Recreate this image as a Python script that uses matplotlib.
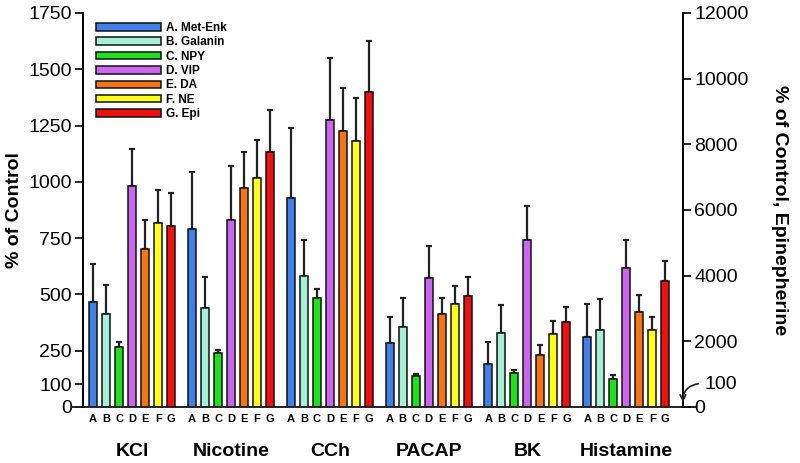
import numpy as np
import matplotlib
matplotlib.use("Agg")
import matplotlib.pyplot as plt
from matplotlib.transforms import blended_transform_factory

plt.rcParams['font.family'] = ['Liberation Sans', 'DejaVu Sans']

groups = ['KCl', 'Nicotine', 'CCh', 'PACAP', 'BK', 'Histamine']
letters = ['A', 'B', 'C', 'D', 'E', 'F', 'G']
names = ['A. Met-Enk', 'B. Galanin', 'C. NPY', 'D. VIP', 'E. DA', 'F. NE', 'G. Epi']
colors = ['#3f7fe8', '#a6f0d8', '#1ee01e', '#cc66ee', '#f57514', '#ffff1a', '#ee1111']

# % of control (left axis), rows = A..F, columns = groups
met_enk = [465, 792, 927, 286, 192, 311]
met_enk_err = [170, 252, 312, 114, 95, 147]
galanin = [412, 441, 581, 357, 329, 341]
galanin_err = [130, 137, 161, 129, 125, 139]
npy = [265, 238, 486, 138, 150, 123]
npy_err = [22, 15, 37, 9, 14, 20]
vip = [980, 829, 1276, 572, 742, 617]
vip_err = [168, 243, 273, 145, 150, 126]
da = [700, 974, 1225, 413, 231, 424]
da_err = [131, 160, 193, 73, 44, 72]
ne = [819, 1016, 1180, 459, 324, 341]
ne_err = [145, 170, 191, 79, 58, 57]
# epinephrine on right axis
epi = [5514, 7769, 9595, 3381, 2599, 3838]
epi_err = [995, 1278, 1564, 570, 457, 609]

left_vals = [met_enk, galanin, npy, vip, da, ne]
left_errs = [met_enk_err, galanin_err, npy_err, vip_err, da_err, ne_err]

fig = plt.figure(figsize=(8, 4.63), dpi=100)
ax = fig.add_axes([0.104, 0.121, 0.75, 0.851])
ax2 = ax.twinx()

pitch = 7.6
w = 0.62
base = np.arange(len(groups)) * pitch
ekw = dict(ecolor='#222222', elinewidth=1.6, capsize=2, capthick=1.6)

for j in range(6):
    x = base + j
    ax.bar(x, left_vals[j], w, color=colors[j], edgecolor='#111111', linewidth=1.1,
           label=names[j], zorder=2)
    ax.errorbar(x, left_vals[j], yerr=[np.zeros(6), left_errs[j]], fmt='none', zorder=1, **ekw)

x = base + 6
ax2.bar(x, epi, w, color=colors[6], edgecolor='#111111', linewidth=1.1, label=names[6], zorder=2)
ax2.errorbar(x, epi, yerr=[np.zeros(6), epi_err], fmt='none', zorder=1, **ekw)

ax.set_xlim(-0.77, 5 * pitch + 6 + 1.38)
ax.set_ylim(0, 1750)
ax2.set_ylim(0, 12000)

ax.set_yticks([0, 100, 250, 500, 750, 1000, 1250, 1500, 1750])
ax2.set_yticks([0, 2000, 4000, 6000, 8000, 10000, 12000])
ax.tick_params(axis='y', labelsize=14, length=6, width=1.2, pad=2)
ax2.tick_params(axis='y', labelsize=14, length=6, width=1.2, pad=2)

xt = np.concatenate([base + j for j in range(7)])
xl = [l for l in letters for _ in range(6)]
ax.set_xticks(xt)
ax.set_xticklabels(xl, fontsize=8, fontweight='bold')
ax.tick_params(axis='x', length=0, pad=5)

for a in (ax, ax2):
    a.spines['top'].set_visible(False)
    a.spines['bottom'].set_visible(False)
    for s in ('left', 'right'):
        a.spines[s].set_linewidth(1.4)
ax.plot([-0.018, 1.02], [0, 0], transform=ax.transAxes, color='#222222', lw=1.4, clip_on=False)

ax.set_ylabel('% of Control', fontsize=14, fontweight='bold', labelpad=4)
ax2.set_ylabel('% of Control, Epinepherine', fontsize=14, fontweight='bold',
               rotation=270, labelpad=28)

trans = blended_transform_factory(ax.transData, ax.transAxes)
for i, g in enumerate(groups):
    ax.text(base[i] + 3, -0.113, g, transform=trans, ha='center', va='center',
            fontsize=14, fontweight='bold')

# right-axis 100 marker with curly arrow
ax2.annotate('', xy=(1.0, 0.005), xytext=(1.03, 0.06), xycoords='axes fraction',
             arrowprops=dict(arrowstyle='->', color='#222222', lw=1.2,
                             connectionstyle='arc3,rad=0.5'))
ax2.text(1.035, 0.058, '100', transform=ax2.transAxes, fontsize=14, va='center', ha='left')

h1, l1 = ax.get_legend_handles_labels()
h2, l2 = ax2.get_legend_handles_labels()
ax.legend(h1 + h2, l1 + l2, loc='upper left', bbox_to_anchor=(0.01, 0.995), frameon=False,
          prop=dict(size=8.5, weight='bold'), handlelength=5.5, handleheight=0.6,
          labelspacing=0.2, handletextpad=0.4, borderaxespad=0.2)

fig.savefig('out.png', dpi=100)
